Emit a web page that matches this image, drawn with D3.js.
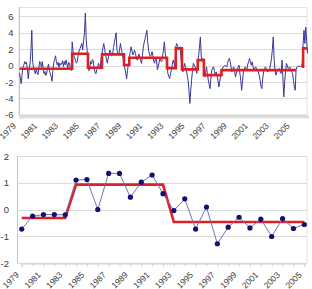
<!DOCTYPE html>
<html>
<head>
<meta charset="utf-8">
<script src="https://cdn.jsdelivr.net/npm/d3@7"></script>
<style>
body{margin:0;background:#fff}
svg{display:block;font-family:"Liberation Sans",Arial,sans-serif}
.grid{stroke:#dcdcdc;stroke-width:1}
.frame{fill:none;stroke:#e2e2e2;stroke-width:1}
.axisline{stroke:#c4c4c4;stroke-width:1}
.ticklabel text{font-size:9.5px;fill:#3a3a3a}
.xlabel text{font-size:8.5px;fill:#3a3a3a}
.monthly{fill:none;stroke:#36369c;stroke-width:1}
.yearly{fill:none;stroke:#7474aa;stroke-width:1}
.shift{fill:none;stroke:#e01e24;stroke-width:2.6}
.dot{fill:#12126e}
</style>
</head>
<body>
<svg id="chart" width="312" height="289"></svg>
<script>
// monthly anomalies, Jan 1979 onwards
let monthlyAnom = [
  -0.9,-1.6,-2.2,-1.0,-0.2,0.1,0.5,0.2,0.4,-0.5,-1.6,-0.4,
  0.2,1.8,4.3,0.4,-0.2,-0.6,-1.0,-0.4,-0.8,-1.1,-0.3,0.5,
  0.3,-0.2,0.5,-0.4,-1.0,-0.7,-1.2,-0.9,-0.3,0.2,-0.5,-1.0,
  -1.3,-1.9,-0.6,0.4,0.7,1.2,0.5,0.1,0.4,-0.2,0.3,0.1,
  0.2,0.6,-0.1,0.5,0.1,0.7,0.2,-0.3,0.4,0.3,-0.4,-0.6,
  2.9,1.8,1.2,0.9,0.5,0.3,0.6,1.4,1.8,2.1,2.4,2.7,
  1.9,3.1,4.0,6.4,3.1,1.9,-0.3,-0.6,-0.3,0.5,0.2,0.75,
  0.6,-0.3,-0.8,-1.0,-0.5,-0.1,0.3,-0.1,-0.2,0.9,1.5,2.2,
  2.7,2.0,1.3,0.8,0.3,0.9,1.5,1.9,1.6,1.2,1.3,2.2,
  2.8,3.4,4.0,1.9,1.5,1.3,2.0,2.7,2.0,1.5,0.9,0.2,
  -0.35,-0.9,-1.6,-0.6,0.3,0.9,1.6,2.3,1.9,1.3,1.5,1.9,
  1.5,1.0,0.67,1.0,1.4,1.0,0.6,0.27,1.2,2.3,2.8,3.3,
  3.8,4.3,2.9,1.9,1.4,1.1,1.3,1.7,1.2,0.5,0.3,1.0,
  0.9,-0.5,-0.15,0.4,0.88,0.6,0.47,1.2,1.9,2.9,1.5,0.8,
  0.3,-0.95,-1.3,-1.56,-1.0,-0.55,0.1,0.67,0.3,-0.15,2.3,2.7,
  2.4,1.9,2.2,2.3,0.9,-0.2,-0.76,-0.3,0.27,-0.1,-0.55,-1.2,
  -1.77,-3.0,-4.6,-3.0,-1.77,-0.6,0.27,0.1,-0.15,-0.6,-0.95,0.6,
  1.2,2.3,3.5,1.07,0.67,0.88,-0.3,-1.37,-0.8,-0.15,-1.0,-1.77,
  -2.3,-2.8,-1.5,-0.55,-0.3,-0.15,-0.7,-1.16,-0.76,-1.2,-1.77,-2.6,
  -2.0,-1.2,-0.76,-0.4,-0.15,-0.05,0.06,-0.1,-0.15,0.3,0.7,0.88,
  0.5,-0.2,-0.76,-0.4,-0.15,-0.7,-1.37,-0.9,-0.55,-0.2,0.06,-0.9,
  -1.77,-3.0,-1.8,-0.76,-0.4,-0.15,-0.4,-0.55,0.2,0.47,0.88,0.4,
  0.06,0.47,-0.1,-0.55,-0.3,-0.15,-0.4,-0.6,-0.76,-1.2,-1.77,-2.5,
  -2.8,-1.6,-0.76,-0.4,-0.15,-0.35,-0.5,-0.76,-0.5,-0.35,0.2,0.88,
  2.0,3.5,0.8,-0.6,-1.16,-0.8,-0.55,-0.45,-0.35,-0.7,-0.95,0.67,
  -1.5,-3.8,-2.0,-0.76,0.27,0.0,-0.35,-0.25,-0.15,-0.6,-0.76,-0.95,
  -1.8,-2.6,-3.0,-0.5,-0.15,-0.1,-0.1,-0.05,-0.1,-0.1,0.2,2.7,
  4.3,2.7,4.7,3.1,1.5
];
// regime shifts on the monthly series (month index from Jan 1979)
let stepFrom  = [0, 60, 78, 94, 119, 125, 168, 178, 185, 203, 210, 230, 323, 323];
let stepTo    = [60, 78, 94, 119, 125, 168, 178, 185, 203, 210, 230, 315, 323, 328];
let stepLevel = [-0.37, 1.45, -0.25, 1.37, 0.08, 0.97, -0.3, 2.1, -0.45, 0.67, -1.16, -0.55, -0.3, 2.1];

// yearly means
let years = d3.range(1979, 2006);
let yearlyAnom = [-0.73, -0.25, -0.19, -0.19, -0.2, 1.1, 1.12, 0.0, 1.35, 1.35, 0.46, 1.02, 1.29, 0.59,
                  -0.04, 0.4, -0.73, 0.09, -1.28, -0.66, -0.29, -0.69, -0.36, -1.01, -0.34, -0.71, -0.56];
let yearlyShift = [-0.32, -0.32, -0.32, -0.32, -0.32, 0.93, 0.93, 0.93, 0.93, 0.93, 0.93, 0.93, 0.93, 0.93,
                   -0.47, -0.47, -0.47, -0.47, -0.47, -0.47, -0.47, -0.47, -0.47, -0.47, -0.47, -0.47, -0.47];

let labelYears = [1979, 1981, 1983, 1985, 1987, 1989, 1991, 1993, 1995, 1997, 1999, 2001, 2003, 2005];
let topTicks = [-6, -4, -2, 0, 2, 4, 6];
let bottomTicks = [-2, -1, 0, 1, 2];

let svg = d3.select("#chart");

// ---------- top panel: monthly ----------
let g1 = svg.append("g");
let xTop = d3.scaleLinear().domain([0, 328]).range([19.5, 307.5]);
let yTop = d3.scaleLinear().domain([-6, 6]).range([114.9, 16.4]);

g1.append("rect").attr("class", "frame").attr("x", 19).attr("y", 7.5).attr("width", 288).attr("height", yTop(-6) - 7.5);
g1.selectAll(".grid").data(topTicks).join("line").attr("class", "grid")
    .attr("x1", 19).attr("x2", 307).attr("y1", d => Math.round(yTop(d)) + 0.5).attr("y2", d => Math.round(yTop(d)) + 0.5);
g1.append("line").attr("class", "axisline").attr("x1", 19.5).attr("x2", 19.5).attr("y1", 7.5).attr("y2", yTop(-6));

let yAxisTop = d3.axisLeft(yTop).tickValues(topTicks).tickSize(0).tickPadding(0).tickFormat(d => d);
g1.append("g").attr("class", "ticklabel").attr("transform", "translate(13.5,0)").call(yAxisTop)
    .call(a => a.select(".domain").remove());

// monthly tick marks along the bottom
let xTicksTop = d3.axisBottom(xTop).tickValues(d3.range(0, 329)).tickSize(3).tickFormat("");
g1.append("g").attr("transform", "translate(0," + (Math.round(yTop(-6)) + 0.5) + ")").call(xTicksTop)
    .call(a => a.selectAll("line").attr("stroke", "#d2d2d2").attr("stroke-width", 0.6))
    .call(a => a.select(".domain").attr("stroke", "#cfcfcf"));

let xLabelsTop = d3.axisBottom(xTop).tickValues(labelYears.map(y => (y - 1979) * 12)).tickSize(0)
    .tickFormat(m => 1979 + m / 12);
g1.append("g").attr("class", "xlabel").attr("transform", "translate(0," + yTop(-6) + ")").call(xLabelsTop)
    .call(a => a.select(".domain").remove())
    .selectAll("text").attr("x", 0).attr("y", 0).attr("dy", 0)
    .attr("text-anchor", "end").attr("transform", "translate(-3.5,11.5) rotate(-45)");

let monthLine = d3.line().x((d, i) => xTop(i)).y(d => yTop(d));
g1.append("path").attr("class", "monthly").attr("d", monthLine(monthlyAnom));

let stepPts = [];
stepFrom.forEach((f, k) => {
    if (k > 0 && stepTo[k - 1] !== f) stepPts.push(null);
    stepPts.push([f, stepLevel[k]], [stepTo[k], stepLevel[k]]);
});
let stepLine = d3.line().defined(d => d !== null).x(d => xTop(d[0])).y(d => yTop(d[1]));
g1.append("path").attr("class", "shift").attr("d", stepLine(stepPts));

// ---------- bottom panel: yearly ----------
let g2 = svg.append("g");
let xBot = d3.scaleLinear().domain([1979, 2005]).range([21.7, 304.3]);
let yBot = d3.scaleLinear().domain([-2, 2]).range([263, 156]);

g2.append("line").attr("class", "frame").attr("x1", 307).attr("x2", 307).attr("y1", yBot(2)).attr("y2", yBot(-2));
g2.selectAll(".grid").data(bottomTicks).join("line").attr("class", "grid")
    .attr("x1", 17).attr("x2", 307).attr("y1", d => Math.round(yBot(d)) + 0.5).attr("y2", d => Math.round(yBot(d)) + 0.5);
g2.append("line").attr("class", "axisline").attr("x1", 17.5).attr("x2", 17.5).attr("y1", yBot(2)).attr("y2", yBot(-2));

let yAxisBot = d3.axisLeft(yBot).tickValues(bottomTicks).tickSize(0).tickPadding(0).tickFormat(d => d);
g2.append("g").attr("class", "ticklabel").attr("transform", "translate(9,0)").call(yAxisBot)
    .call(a => a.select(".domain").remove());

let xAxisBot = d3.axisBottom(xBot).tickValues(years).tickSize(3).tickFormat("");
g2.append("g").attr("transform", "translate(0," + (Math.round(yBot(-2)) + 0.5) + ")").call(xAxisBot)
    .call(a => a.selectAll("line").attr("stroke", "#cfcfcf"))
    .call(a => a.select(".domain").attr("stroke", "#cfcfcf"));

let xLabelsBot = d3.axisBottom(xBot).tickValues(labelYears).tickSize(0).tickFormat(d => d);
g2.append("g").attr("class", "xlabel").attr("transform", "translate(0," + yBot(-2) + ")").call(xLabelsBot)
    .call(a => a.select(".domain").remove())
    .selectAll("text").attr("x", 0).attr("y", 0).attr("dy", 0)
    .attr("text-anchor", "end").attr("transform", "translate(-2.5,12.5) rotate(-45)");

let yearLine = d3.line().x((d, i) => xBot(years[i])).y(d => yBot(d));
g2.append("path").attr("class", "shift").attr("stroke-width", 2.4).attr("d", yearLine(yearlyShift));
g2.append("path").attr("class", "yearly").attr("d", yearLine(yearlyAnom));
g2.selectAll(".dot").data(yearlyAnom).join("circle").attr("class", "dot")
    .attr("cx", (d, i) => xBot(years[i])).attr("cy", d => yBot(d)).attr("r", 2.6);
</script>
</body>
</html>
